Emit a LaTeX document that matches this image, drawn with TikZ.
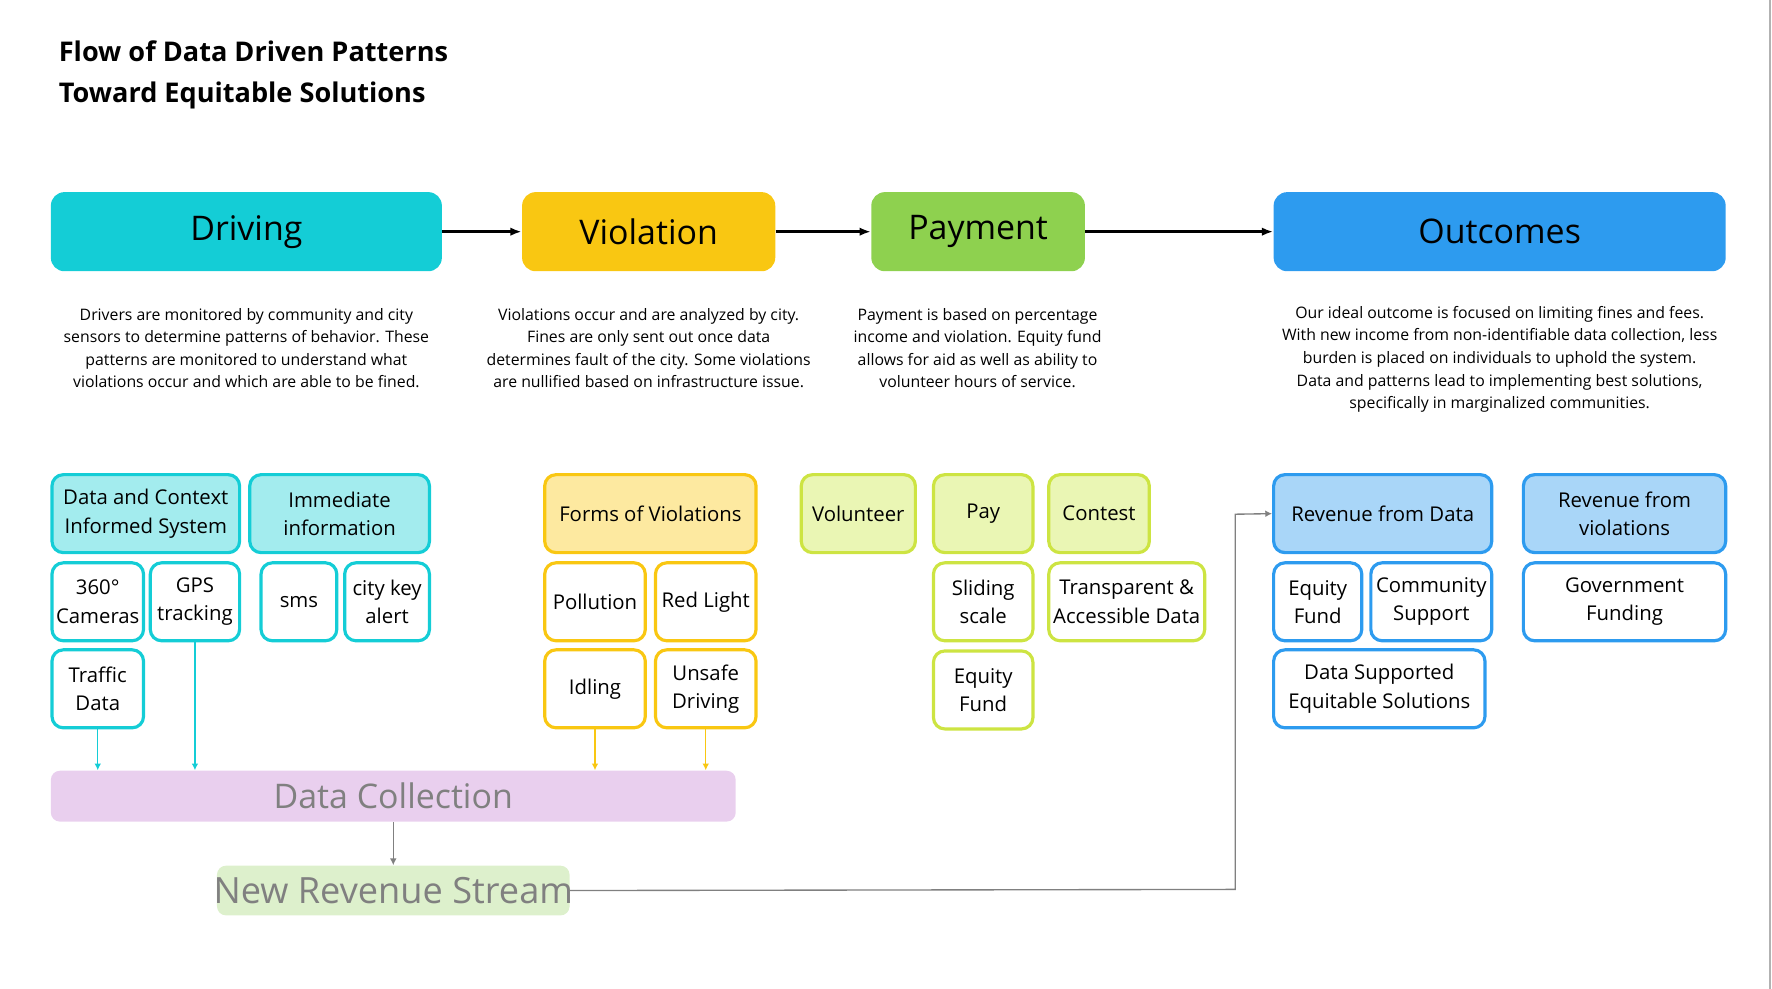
\documentclass[tikz,border=0pt]{standalone}
\usepackage{fontspec}
\setmainfont{Open Sans}
\usetikzlibrary{fit,arrows.meta}
\definecolor{cy}{RGB}{20,205,214}\definecolor{cyl}{RGB}{163,236,238}
\definecolor{ye}{RGB}{249,199,18}\definecolor{yel}{RGB}{253,233,160}
\definecolor{gr}{RGB}{142,209,79}\definecolor{lg}{RGB}{205,228,66}\definecolor{lgl}{RGB}{234,246,180}
\definecolor{bl}{RGB}{45,155,239}\definecolor{bll}{RGB}{169,214,248}
\definecolor{pu}{RGB}{233,207,238}\definecolor{ng}{RGB}{221,240,204}
\definecolor{tg}{RGB}{128,128,128}
\newcommand\bx[7]{\node[#2,fit={(#3,#4)(#5,#6)},inner sep=0pt,label={[align=center,font=\fontsize{9}{12.5}\selectfont]center:{#7}}] (#1) {};}
\tikzset{
 hd/.style={rounded corners=6pt,draw=none},
 sb/.style={rounded corners=5pt,line width=1.4pt},
 desc/.style={align=center,font=\fontsize{7}{10}\selectfont},
 arr/.style={-{Latex[length=5pt]},line width=1.4pt},
 thin/.style={-{Latex[length=3pt,width=3pt]},line width=0.6pt}
}
\begin{document}
\begin{tikzpicture}[x=0.5pt,y=-0.5pt]
\useasboundingbox (0,0) rectangle (1568,875);
\draw[gray!60,line width=0.8pt] (1566,0) -- (1566,875);
\node[anchor=west,font=\fontsize{12}{18}\selectfont\bfseries,align=left] (title) at (45,66) {Flow of Data Driven Patterns\\Toward Equitable Solutions};
% headers
\bx{drv}{hd,fill=cy}{45}{170}{391}{240}{\fontsize{15}{18}\selectfont Driving}
\bx{vio}{hd,fill=ye}{462}{170}{686}{240}{\fontsize{15}{18}\selectfont Violation}
\bx{pay}{hd,fill=gr}{771}{170}{960}{240}{\fontsize{15}{18}\selectfont Payment}
\bx{out}{hd,fill=bl}{1127}{170}{1527}{240}{\fontsize{15}{18}\selectfont Outcomes}
\draw[arr] (drv) -- (vio);
\draw[arr] (vio) -- (pay);
\draw[arr] (pay) -- (out);
% descriptions
\node[desc] (d1) at (218,308) {Drivers are monitored by community and city\\sensors to determine patterns of behavior. These\\patterns are monitored to understand what\\violations occur and which are able to be fined.};
\node[desc] (d2) at (574,308) {Violations occur and are analyzed by city.\\Fines are only sent out once data\\determines fault of the city. Some violations\\are nullified based on infrastructure issue.};
\node[desc] (d3) at (865,308) {Payment is based on percentage\\income and violation. Equity fund\\allows for aid as well as ability to\\volunteer hours of service.};
\node[desc] (d4) at (1327,318) {Our ideal outcome is focused on limiting fines and fees.\\With new income from non-identifiable data collection, less\\burden is placed on individuals to uphold the system.\\Data and patterns lead to implementing best solutions,\\specifically in marginalized communities.};
% driving
\bx{dc}{sb,draw=cy,fill=cyl}{46}{420}{212}{489}{Data and Context\\Informed System}
\bx{ii}{sb,draw=cy,fill=cyl}{221}{420}{380}{489}{Immediate\\information}
\bx{cam}{sb,draw=cy,fill=white}{46}{498}{127}{567}{360°\\Cameras}
\bx{gps}{sb,draw=cy,fill=white}{133}{498}{212}{567}{GPS\\tracking}
\bx{sms}{sb,draw=cy,fill=white}{231}{498}{298}{567}{sms}
\bx{ck}{sb,draw=cy,fill=white}{305}{498}{380}{567}{city key\\alert}
\bx{td}{sb,draw=cy,fill=white}{46}{575}{127}{644}{Traffic\\Data}
% violation
\bx{fv}{sb,draw=ye,fill=yel}{482}{420}{669}{489}{Forms of Violations}
\bx{pol}{sb,draw=ye,fill=white}{482}{498}{571}{567}{Pollution}
\bx{rl}{sb,draw=ye,fill=white}{580}{498}{669}{567}{Red Light}
\bx{idl}{sb,draw=ye,fill=white}{482}{575}{571}{644}{Idling}
\bx{ud}{sb,draw=ye,fill=white}{580}{575}{669}{644}{Unsafe\\Driving}
% payment
\bx{vol}{sb,draw=lg,fill=lgl}{709}{420}{810}{489}{Volunteer}
\bx{pp}{sb,draw=lg,fill=lgl}{826}{420}{914}{489}{Pay}
\bx{con}{sb,draw=lg,fill=lgl}{928}{420}{1017}{489}{Contest}
\bx{ss}{sb,draw=lg,fill=white}{826}{498}{914}{567}{Sliding\\scale}
\bx{tad}{sb,draw=lg,fill=white}{928}{498}{1066}{567}{Transparent \&\\Accessible Data}
\bx{ef}{sb,draw=lg,fill=white}{826}{576}{914}{645}{Equity\\Fund}
% outcomes
\bx{rd}{sb,draw=bl,fill=bll}{1127}{420}{1320}{489}{Revenue from Data}
\bx{rv}{sb,draw=bl,fill=bll}{1348}{420}{1527}{489}{Revenue from\\violations}
\bx{oef}{sb,draw=bl,fill=white}{1127}{498}{1205}{567}{Equity\\Fund}
\bx{cs}{sb,draw=bl,fill=white}{1213}{498}{1320}{567}{Community\\Support}
\bx{gf}{sb,draw=bl,fill=white}{1348}{498}{1527}{567}{Government\\Funding}
\bx{dse}{sb,draw=bl,fill=white}{1127}{575}{1314}{644}{Data Supported\\Equitable Solutions}
% bottom
\bx{col}{rounded corners=4pt,fill=pu}{45}{682}{651}{727}{\fontsize{15}{18}\selectfont\color{tg}Data Collection}
\bx{nrs}{rounded corners=4pt,fill=ng}{192}{766}{504}{810}{\fontsize{16}{18}\selectfont\color{tg}New Revenue Stream}
\draw[thin,cy] (td.south) -- (td.south|-col.north);
\draw[thin,cy] (gps.south) -- (gps.south|-col.north);
\draw[thin,ye] (idl.south) -- (idl.south|-col.north);
\draw[thin,ye] (ud.south) -- (ud.south|-col.north);
\draw[thin,tg] (col.south-|nrs.north) -- (nrs.north);
\coordinate (k1) at (1093,787);
\coordinate (k2) at (1093,455);
\draw[thin,tg] (nrs.east) -- (k1) -- (k2) -- (rd.west);
\end{tikzpicture}
\end{document}
